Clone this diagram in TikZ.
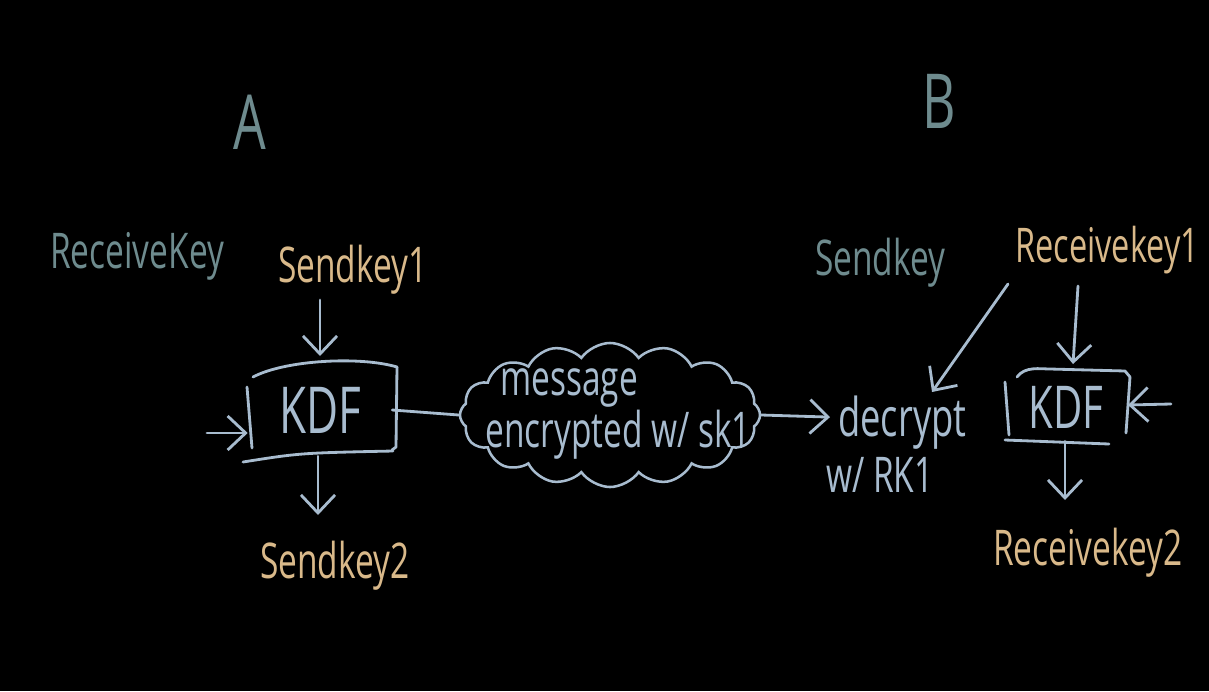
\documentclass[tikz,border=0pt]{standalone}
\usepackage{fontspec}
\setmainfont[FakeStretch=0.68]{Open Sans}
\usetikzlibrary{arrows.meta,shapes.symbols,calc}
\definecolor{cteal}{HTML}{6E8B8E}
\definecolor{ctan}{HTML}{D9B98A}
\definecolor{cblue}{HTML}{A8BCCF}
\begin{document}
\begin{tikzpicture}[x=0.025cm,y=-0.025cm,
  lbl/.style={font=\fontsize{35}{40}\selectfont, inner sep=0pt, anchor=base west},
  big/.style={font=\fontsize{54}{60}\selectfont, inner sep=0pt, text=cteal},
  kdf/.style={font=\fontsize{46}{50}\selectfont, text=cblue, inner sep=0pt, minimum width=3.6cm, minimum height=1.9cm},
  sk/.style={draw=cblue, line width=2pt, line cap=round, line join=round},
  arr/.style={sk, -{Straight Barb[length=4.5mm,width=8.5mm,line width=2pt]}},
  cloudbox/.style={cloud, draw=cblue, line width=1.8pt, cloud puffs=16, cloud puff arc=110, cloud ignores aspect, minimum width=7.5cm, minimum height=3.6cm, inner sep=0pt}
]
\fill[black] (0,0) rectangle (1209,691);
\useasboundingbox (0,0) rectangle (1209,691);

% headings
\node[big] (A) at (250,122) {A};
\node[big] (B) at (939,101) {B};

% A side labels
\node[lbl, text=cteal] (rkA) at (50,268) {ReceiveKey};
\node[lbl, text=ctan] (sk1) at (278,282) {Sendkey1};
\node[lbl, text=ctan] (sk2) at (260,578) {Sendkey2};

% KDF A
\node[kdf] (kdfA) at (320,410) {KDF};
\draw[sk] (253,377) .. controls (285,360) and (360,356) .. (397,367);
\draw[sk] (397,367) -- (396,447) -- (392,450);
\draw[sk] (247,387) -- (252,448);
\draw[sk] (243,462) .. controls (300,453) .. (393,451);
\coordinate (inA) at (207,433);
\coordinate (sk1in) at (320,300);
\coordinate (sk2out) at (318,515);
\draw[arr] (inA) -- (inA -| kdfA.west);
\draw[arr] (sk1in) -- (sk1in |- 0,356);
\draw[arr] (kdfA.south -| sk2out) ++(0,8) -- (sk2out);

% cloud
\node[cloudbox] (msg) at (610,415) {};
\node[lbl, text=cblue] (m1) at (500,395) {message};
\node[lbl, text=cblue] (m2) at (485,447) {encrypted w/ sk1};
\draw[sk] (kdfA.east) -- (msg.west);

% B side
\node[lbl, text=cteal] (skB) at (815,275) {Sendkey};
\node[lbl, text=ctan, font=\fontsize{34}{40}\selectfont] (rk1) at (1015,262) {Receivekey1};
\node[lbl, text=ctan] (rk2) at (993,565) {Receivekey2};
\node[lbl, text=cblue, font=\fontsize{38}{44}\selectfont] (dec1) at (838,436) {decrypt};
\node[lbl, text=cblue, font=\fontsize{35}{44}\selectfont] (dec2) at (826,492) {w/ RK1};
\draw[arr] (msg.east) -- ($(dec1.west)+(-8,-5)$);

% KDF B
\node[kdf, font=\fontsize{42}{46}\selectfont, minimum width=3cm, minimum height=1.5cm] (kdfB) at (1066,407) {KDF};
\draw[sk] (1017,377) .. controls (1025,366) and (1040,369) .. (1050,369) -- (1125,371) -- (1130,377);
\draw[sk] (1130,377) -- (1126,433);
\draw[sk] (1005,382) -- (1009,435);
\draw[sk] (1005,440) -- (1109,444);
\coordinate (inB) at (1171,404);
\coordinate (rk1a) at (1078,286);
\coordinate (rk1b) at (1008,284);
\coordinate (decin) at (932,392);
\coordinate (rk2out) at (1065,500);
\draw[arr] (inB) -- (1128,405);
\draw[arr] (rk1a) -- (1073,364);
\draw[arr] (rk1b) -- (decin);
\draw[arr] (kdfB.south -| rk2out) ++(0,4) -- (rk2out);
\end{tikzpicture}
\end{document}
